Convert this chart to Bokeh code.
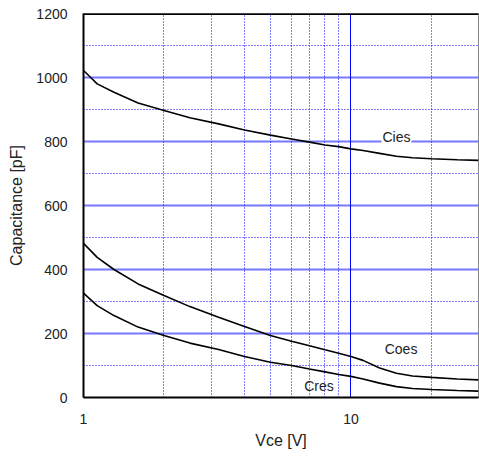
from bokeh.plotting import figure
from bokeh.models import FixedTicker, Grid, Label, Span
from bokeh.embed import file_html
from bokeh.resources import INLINE

vce = [1, 1.125, 1.3, 1.6, 2, 2.5, 3.2, 4, 5, 6, 7, 8, 9, 10, 11.1, 12.8, 14.8, 17, 20, 25, 30]
cies = [1022, 980, 954, 920, 897, 874, 855, 836, 820, 808, 798, 789, 784, 777, 772, 763, 754, 749, 746, 743, 741]
coes = [482, 438, 400, 355, 319, 284, 251, 222, 194, 176, 162, 149, 138, 128, 116, 92, 76, 67, 63, 58, 55]
cres = [326, 287, 256, 220, 194, 170, 150, 128, 110, 100, 89, 80, 72, 66, 58, 45, 34, 28, 25, 22, 20]

y_ticks = [0, 200, 400, 600, 800, 1000, 1200]
y_major_grid = [200, 400, 600, 800, 1000]
y_minor_grid = [100, 300, 500, 700, 900, 1100]
x_ticks = [1, 10]
x_minor_grid = [2, 3, 4, 5, 6, 7, 8, 9, 20]
x_major_grid = [10]

FONT = "Liberation Sans"

p = figure(width=479, height=459, x_axis_type="log", x_range=(1, 30), y_range=(0, 1200),
           output_backend="svg", toolbar_location=None,
           min_border_left=83, min_border_right=1, min_border_top=13, min_border_bottom=62)
p.background_fill_color = "white"
p.border_fill_color = "white"
p.outline_line_color = "#888888"
p.outline_line_width = 1

p.xgrid.visible = False
p.ygrid.visible = False

p.add_layout(Grid(dimension=1, ticker=FixedTicker(ticks=y_major_grid),
                  grid_line_color="#7878ff", grid_line_width=2))
p.add_layout(Grid(dimension=1, ticker=FixedTicker(ticks=y_minor_grid),
                  grid_line_color="#0000ff", grid_line_width=1, grid_line_dash="1 2"))
p.add_layout(Grid(dimension=0, ticker=FixedTicker(ticks=x_minor_grid),
                  grid_line_color="#0000ff", grid_line_width=1, grid_line_dash="1 2"))
p.add_layout(Grid(dimension=0, ticker=FixedTicker(ticks=x_major_grid),
                  grid_line_color="#0000ff", grid_line_width=1))

p.add_layout(Span(location=1200, dimension="width", line_color="black", line_width=3))

for ys in (cies, coes, cres):
    p.line(vce, ys, line_color="black", line_width=1.6)

p.xaxis.ticker = FixedTicker(ticks=x_ticks)
p.yaxis.ticker = FixedTicker(ticks=y_ticks)
p.xaxis.major_label_overrides = {1: "1", 10: "10"}
for ax in (p.xaxis[0], p.yaxis[0]):
    ax.axis_line_color = "black"
    ax.axis_line_width = 2
    ax.major_tick_line_color = None
    ax.minor_tick_line_color = None
    ax.major_label_text_font = FONT
    ax.major_label_text_font_size = "14px"
    ax.major_label_text_color = "#222222"
    ax.axis_label_text_font = FONT
    ax.axis_label_text_font_size = "16px"
    ax.axis_label_text_font_style = "normal"
    ax.axis_label_text_color = "#222222"
    ax.major_label_standoff = 10
p.xaxis.axis_label = "Vce [V]"
p.yaxis.axis_label = "Capacitance [pF]"
p.xaxis.axis_label_standoff = 5
p.yaxis.axis_label_standoff = 8

labels = [("Cies", 14.8, 814), ("Coes", 15.4, 152), ("Cres", 7.6, 37)]
for txt, lx, ly in labels:
    p.add_layout(Label(x=lx, y=ly, text=txt, text_align="center", text_baseline="middle",
                       text_font=FONT, text_font_size="14px", text_color="#222222",
                       background_fill_color="white" if txt == "Cies" else None,
                       padding=1))

open("out.html", "w").write(file_html(p, INLINE))
